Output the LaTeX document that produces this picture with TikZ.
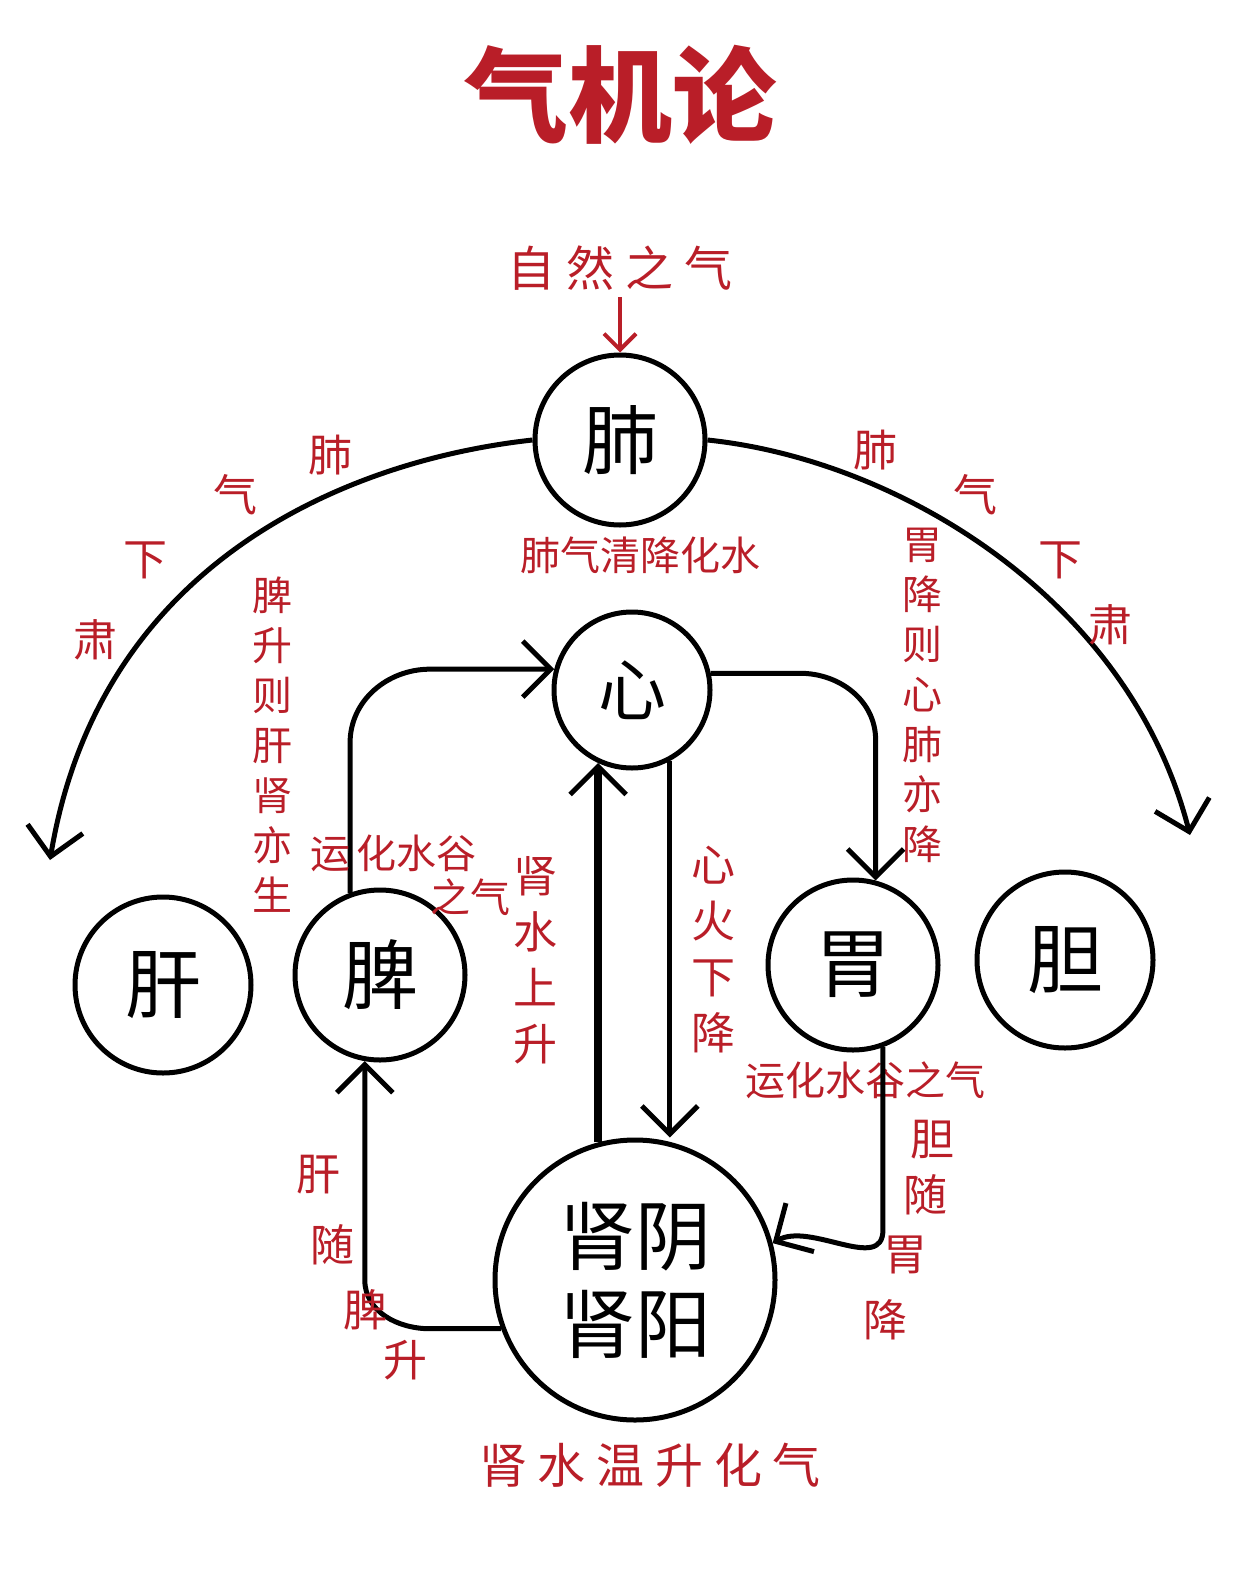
\documentclass[tikz,border=0pt]{standalone}
\usepackage{fontspec}
\setmainfont{Noto Sans CJK SC}
\usetikzlibrary{arrows.meta}
\definecolor{tred}{RGB}{185,30,40}
\tikzset{
 organ/.style={circle,draw,line width=2.5pt,inner sep=0pt},
 conn/.style={line width=2.5pt,-{Straight Barb[length=14pt,width=28pt,line width=2.5pt]}},
 lab/.style={text=tred,font=\fontsize{20}{22}\selectfont},
 vlab/.style={lab,align=center,font=\fontsize{20}{25}\selectfont}
}
\begin{document}
\begin{tikzpicture}[x=0.5pt,y=-0.5pt]
\useasboundingbox (0,0) rectangle (1242,1574);
\node[text=tred,font=\fontsize{52}{56}\selectfont\bfseries] (title) at (620,95) {气机论};
\node[lab,font=\fontsize{24}{26}\selectfont] (zr) at (620,268) {自 然 之 气};
\node[organ,minimum size=85pt,font=\fontsize{38}{40}\selectfont] (fei) at (620,440) {肺};
\node[organ,minimum size=78pt,font=\fontsize{34}{36}\selectfont] (xin) at (632,690) {心};
\node[organ,minimum size=88pt,font=\fontsize{38}{40}\selectfont] (gan) at (163,985) {肝};
\node[organ,minimum size=85pt,font=\fontsize{38}{40}\selectfont] (pi) at (380,975) {脾};
\node[organ,minimum size=85pt,font=\fontsize{38}{40}\selectfont] (wei) at (853,965) {胃};
\node[organ,minimum size=88pt,font=\fontsize{38}{40}\selectfont] (dan) at (1065,960) {胆};
\node[organ,minimum size=140pt,font=\fontsize{38}{44}\selectfont,align=center] (shen) at (635,1280) {肾阴\\肾阳};
\draw[line width=2pt,tred,-{Straight Barb[length=8pt,width=16pt,line width=2pt]}] (zr.south) -- (fei.north);
\coordinate (lt) at (50,860);
\coordinate (rt) at (1190,835);
\draw[conn] (fei.west) .. controls (350,460) and (100,560) .. (lt);
\draw[conn] (fei.east) .. controls (900,460) and (1130,600) .. (rt);
\node[lab] at (640,555) {肺气清降化水};
\foreach \t/\x/\y in {肃/95/640,下/145/560,气/235/495,肺/330/455,肺/875/450,气/975/495,下/1060/560,肃/1110/625}
 \node[lab,font=\fontsize{22}{24}\selectfont] at (\x,\y) {\t};
\node[vlab] at (272,745) {脾\\升\\则\\肝\\肾\\亦\\生};
\node[vlab] at (922,695) {胃\\降\\则\\心\\肺\\亦\\降};
\coordinate (xw) at (xin.165);
\draw[conn] (pi.110) -- ++(0,-150) to[out=90,in=180] (xw -| 430,0) -- (xw);
\coordinate (wt) at (wei.75);
\coordinate (xe) at (xin.12);
\draw[conn] (xe) -- (xe -| 800,0) to[out=0,in=90] (wt |- 740,740) -- (wt);
\coordinate (sl) at (shen.105);
\coordinate (xl) at (xin.-115);
\draw[line width=4pt,-{Straight Barb[length=14pt,width=28pt,line width=2.5pt]}] (sl) -- (sl |- xl);
\coordinate (xr) at (xin.-62);
\draw[conn] (xr) -- (xr |- shen.north);
\node[vlab,font=\fontsize{22}{28}\selectfont] at (535,960) {肾\\水\\上\\升};
\node[vlab,font=\fontsize{22}{28}\selectfont] at (713,950) {心\\火\\下\\降};
\node[lab,align=left] at (410,875) {运\,化水谷\\\hspace*{3em}之气};
\node[lab] at (865,1080) {运化水谷之气};
\coordinate (sw) at (shen.200);
\coordinate (pb) at (pi.-100);
\draw[conn] (sw) -- (430,1340 |- sw) to[out=180,in=270] (pb |- 1280,1280) -- (pb);
\coordinate (wb) at (wei.-70);
\draw[conn] (wb) -- (wb |- 1230,1230) to[out=270,in=30] (shen.15);
\foreach \t/\x/\y in {肝/318/1175,随/332/1245,脾/365/1310,升/405/1360,胆/932/1140,随/925/1195,胃/905/1255,降/885/1320}
 \node[lab,font=\fontsize{22}{24}\selectfont] at (\x,\y) {\t};
\node[lab,font=\fontsize{24}{26}\selectfont] at (650,1465) {肾 水 温 升 化 气};
\end{tikzpicture}
\end{document}
